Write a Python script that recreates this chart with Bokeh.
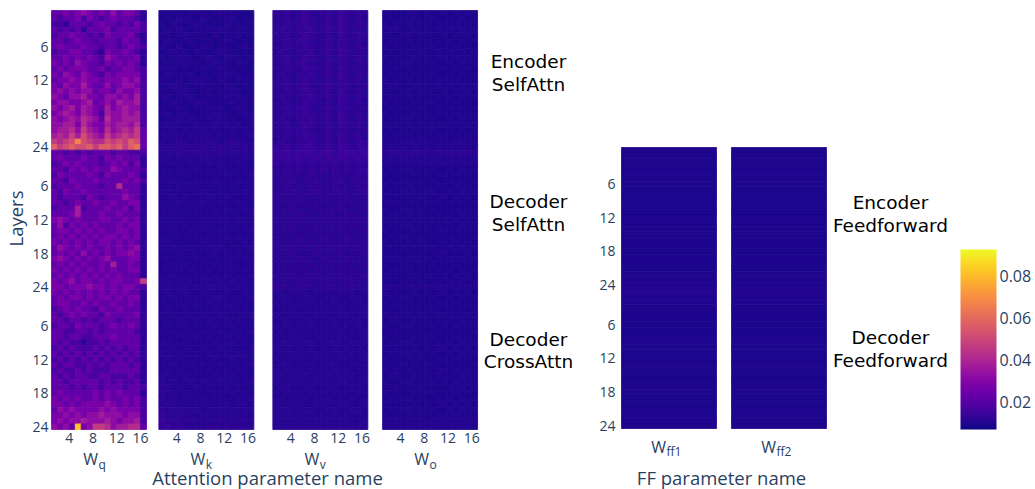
import math
import numpy as np
from bokeh.plotting import figure
from bokeh.models import (Range1d, FixedTicker, ColorBar, LinearColorMapper, ColumnDataSource)
from bokeh.core.properties import value
from bokeh.palettes import Plasma256
from bokeh.layouts import row
from bokeh.embed import file_html
from bokeh.resources import INLINE

# ---------------------------------------------------------------- data
heads = list(range(1, 17))
head_ticks = [4, 8, 12, 16]
layers = list(range(0, 25))
layer_ticks = [6, 12, 18, 24]
attn_sections = [("Encoder", "SelfAttn"), ("Decoder", "SelfAttn"), ("Decoder", "CrossAttn")]
ff_sections = [("Encoder", "Feedforward"), ("Decoder", "Feedforward")]
attn_names = [("W", "q"), ("W", "k"), ("W", "v"), ("W", "o")]
ff_names = [("W", "ff1"), ("W", "ff2")]
attn_axis_title = "Attention parameter name"
ff_axis_title = "FF parameter name"
y_title = "Layers"
color_low, color_high = 0.0067, 0.0928
cbar_ticks = [0.02, 0.04, 0.06, 0.08]

# W_q: one hex digit per head, value = 0.007 + 0.005 * digit
wq_base, wq_step = 0.007, 0.005
wq_levels = [
    # Encoder SelfAttn, layers 0..24
    "3343454343534431", "3233424323433321", "2213332343323242", "3232313334233332",
    "2334332324333421", "3323433233324331", "3433343323323432", "2334433214334321",
    "3343434325433341", "4343543324343431", "3434443342334432", "4354354324344442",
    "3445454434445452", "4354464335345542", "4545455344354452", "5435564435545462",
    "4554456345465562", "5456465436456552", "4565465426556562", "5456576537556662",
    "5566475446566572", "5667586547567683", "6768697658678783", "8789c98779898a93",
    "a89a99a8aa9a8ab3",
    # Decoder SelfAttn
    "3323232333233222", "3433343324343331", "2343433323434241", "3324343433543332",
    "2433334324333431", "3324333433334342", "2333433323373331", "3243343333334331",
    "3233324323335431", "3323433433433441", "2333623334334241", "3334633343343331",
    "4543433344334341", "3524343433343441", "3443434343344341", "3434343434434341",
    "4343434344343431", "3543434334343451", "3434353434344541", "4543434345333441",
    "3434343343633431", "4343434343433441", "3434343434343331", "4345344343443348",
    "4434445443434432",
    # Decoder CrossAttn
    "4343434343434331", "3434434344343441", "3443343433433431", "2343433243343331",
    "3234343324333341", "3323323233323331", "2332433323433431", "3322332323333321",
    "3323322333433331", "3232212232333331", "2323222323232331", "3232323232323231",
    "2323232323232321", "3233223232333231", "2322323222333331", "3232332233222321",
    "3323333323232231", "3332323323332332", "3433333434343331", "4343433434334342",
    "4434344445434342", "3545444454544442", "4454545565554552", "4545565556545562",
    "5453f45887566773",
]

# W_k, W_v, W_o: one hex digit per head, value = 0.007 + 0.001 * digit
fine_base, fine_step = 0.007, 0.001
wk_levels = [
    "3233243323433322", "2324332432334232", "3243234323243323", "2334323233432332",
    "3323433324233423", "2432342332343232", "3324233432332343", "2343324323433232",
    "3234332343243323", "2323433234332432", "3342323432433232", "2433342323343323",
    "3324234332432433", "2343323433243232", "3234432342334323", "3423342333243432",
    "2343234432334233", "3234323343423432", "3423432334332343", "2334343243433234",
    "3433234334343423", "3343433434334343", "3434343443434334", "4345434454345443",
    "5455454545545454",
    "4445445444544443", "3434343443434343", "3343343343433433", "3334334333433343",
    "3433433343343334", "3343334334333433", "3334343333434333", "3433333433333343",
    "3343433343343334", "3334333433433433", "3433343333343343", "3343334334333334",
    "3334333343433433", "3433433433343343", "3343343333433334", "3334334343343433",
    "3433333433333343", "3343433343433334", "3334343334343433", "3433334333334343",
    "3343433434343334", "3434343343434343", "3343434434343434", "4434343443434343",
    "3434434344343433",
    "3433433433343343", "3343343334433334", "3334334343343433", "3433433334334343",
    "3343343433433334", "3334334343343433", "3433433334334343", "3343343433433334",
    "3334334343343433", "4433433334334343", "3343343433433334", "4334334343343433",
    "3433433334334343", "4343343433433334", "3434334343343433", "4433433334334343",
    "4343343433433334", "5434334343343433", "4443433334334343", "5343443433433434",
    "4544334443343443", "5454444344434344", "6545443443444443", "7565454444544454",
    "6756545455454544",
]
wv_levels = [
    "5464575466475565", "4564676456576464", "5465576556475565", "4654667456576454",
    "5464576546475565", "4565675456566464", "5465576556475565", "4654667456576454",
    "5464576546475564", "4565675456566465", "5465576556475554", "4654667456576465",
    "5464576546475564", "4565675456566455", "5465576556475564", "4654667456576465",
    "5464576546475564", "4565675456566455", "5465576556475564", "4654667456576465",
    "5464576546475564", "4565675456566455", "5465576556475564", "4654667456576465",
    "6575687657586576",
    "7686787687678767", "6776867768687676", "6565656565656565", "5565656565656566",
    "5465546554655465", "4556455645564556", "5465546554655465", "4556455645564556",
    "5454545454545455", "4545454545454544", "5455445544554455", "4544554455445544",
    "5454545454545455", "4545454545454544", "5455445544554455", "4544554455445544",
    "5454545454545455", "4545454545454544", "5455445544554455", "4544554455445544",
    "5454545454545455", "4545454545454544", "5455445544554455", "4544554455445544",
    "5554555455545554",
    "4434443444344434", "3443344334433443", "4343434343434343", "3434343434343434",
    "4334433443344334", "3443344334433443", "4343434343434343", "3434343434343434",
    "4334433443344334", "3443344334433443", "4343434343434343", "3434343434343434",
    "4334433443344334", "3443344334433443", "4343434343434343", "3434343434343434",
    "4334433443344334", "3443344334433443", "4343434343434343", "3434343434343434",
    "4334433443344334", "3443344334433443", "4343434343434343", "4434443444344434",
    "4444444444444444",
]
wo_levels = [
    "3232332323323232", "2323232332232323", "3232323223323232", "2332232323232323",
    "3223323232323232", "2332323223232323", "3232232332323232", "2323323223232323",
    "3232232323323232", "2323323232232323", "3232323223323232", "2323232332232323",
    "3232323223323232", "2332232323232323", "3223323232323232", "2332323223232323",
    "3232232332323232", "2323323223232323", "3232232323323232", "2323323232232323",
    "3232323223323232", "2323232332232323", "3232323223323232", "3333333333333333",
    "3434343434343433",
    "4454545444545454", "3434343434343434", "3333333333333333", "2323323232232323",
    "3232232323323232", "2323323232232323", "3232323223323232", "2323232332232323",
    "3232323223323232", "2332232323232323", "3223323232323232", "2332323223232323",
    "3232232332323232", "2323323223232323", "3232232323323232", "2323323232232323",
    "3232323223323232", "2323232332232323", "3232323223323232", "2332232323232323",
    "3223323232323232", "2332323223232323", "3232232332323232", "2323323223232323",
    "3333333333333333",
    "3232232323323232", "2323323232232323", "3232323223323232", "2323232332232323",
    "3232323223323232", "2332232323232323", "3223323232323232", "2332323223232323",
    "3232232332323232", "2323323223232323", "3232232323323232", "2323323232232323",
    "3232323223323232", "2323232332232323", "3232323223323232", "2332232323232323",
    "3223323232323232", "2332323223232323", "3232232332323232", "2323323223232323",
    "3232232323323232", "2323323232232323", "3232323223323232", "3333333333333333",
    "3333333333333333",
]

# Feedforward matrices: one value per layer (Encoder 0..24, then Decoder 0..24)
ff1_values = [0.0091, 0.0090, 0.0090, 0.0089, 0.0090, 0.0089, 0.0089, 0.0090, 0.0089, 0.0089,
              0.0090, 0.0089, 0.0089, 0.0090, 0.0089, 0.0089, 0.0090, 0.0089, 0.0089, 0.0090,
              0.0090, 0.0090, 0.0091, 0.0092, 0.0094,
              0.0102, 0.0094, 0.0092, 0.0091, 0.0090, 0.0090, 0.0090, 0.0089, 0.0090, 0.0089,
              0.0090, 0.0089, 0.0089, 0.0090, 0.0089, 0.0089, 0.0090, 0.0089, 0.0089, 0.0090,
              0.0089, 0.0090, 0.0090, 0.0091, 0.0092]
ff2_values = [0.0090, 0.0090, 0.0089, 0.0089, 0.0089, 0.0089, 0.0090, 0.0089, 0.0089, 0.0089,
              0.0089, 0.0090, 0.0089, 0.0089, 0.0089, 0.0090, 0.0089, 0.0089, 0.0089, 0.0089,
              0.0090, 0.0090, 0.0090, 0.0091, 0.0093,
              0.0098, 0.0093, 0.0091, 0.0090, 0.0090, 0.0089, 0.0089, 0.0089, 0.0089, 0.0089,
              0.0089, 0.0089, 0.0090, 0.0089, 0.0089, 0.0089, 0.0089, 0.0090, 0.0089, 0.0089,
              0.0089, 0.0089, 0.0090, 0.0090, 0.0091]

# ---------------------------------------------------------------- styling
TICK_COLOR = "#2a3f5f"
FONT = "Open Sans"
LABEL_FONT = "DejaVu Sans"
TITLE_SIZE = "18.5px"
H = 489
mapper = LinearColorMapper(palette=Plasma256, low=color_low, high=color_high)
cmap_field = {"field": "v", "transform": mapper}


def decode(rows, base, step):
    for r in rows:
        assert len(r) == 16, r
    return [[base + step * int(c, 16) for c in r] for r in rows]


attn_values = [decode(wq_levels, wq_base, wq_step), decode(wk_levels, fine_base, fine_step),
               decode(wv_levels, fine_base, fine_step), decode(wo_levels, fine_base, fine_step)]
n_sections = len(attn_sections)
n_rows = n_sections * len(layers)


def style_axis(ax, size="14px", standoff=3):
    ax.axis_line_color = None
    ax.major_tick_line_color = None
    ax.minor_tick_line_color = None
    ax.major_tick_out = 0
    ax.major_tick_in = 0
    ax.major_label_standoff = standoff
    ax.major_label_text_font = FONT
    ax.major_label_text_font_size = size
    ax.major_label_text_color = TICK_COLOR


def base_fig(width, xr, yr):
    p = figure(width=width, height=H, x_range=xr, y_range=yr, title=None,
               toolbar_location=None, output_backend="svg",
               min_border_left=0, min_border_right=0,
               min_border_top=0, min_border_bottom=0)
    if "frame_align" in p.properties():
        p.frame_align = False
    p.outline_line_color = None
    p.xgrid.visible = False
    p.ygrid.visible = False
    p.background_fill_color = "white"
    p.border_fill_color = "white"
    return p


def add_text(p, fx, fy, xs, ys_px, texts, size, color, font=FONT, align="center", angle=0.0):
    # ys_px: intended alphabetic baselines (canvas px); small correction for the glyph's baseline
    px = float(size.replace("px", ""))
    ys = [fy(y - 0.39 * px) for y in ys_px]
    p.text(x=[fx(x) for x in xs], y=ys, text=texts, text_font=value(font),
           text_font_size=value(size), text_color=color, text_align=align,
           text_baseline="alphabetic", angle=angle)


# ---------------------------------------------------------------- attention figure
A_W = 596
A_X0, A_Y0 = 51, 10             # left/top edge of the heat maps on the canvas
A_SX, A_SY = 95 / 16, 419 / 75  # pixels per head / per layer row
panel_left = [0.0, 18.08, 37.28, 55.76]   # panel positions (head units)


def ax_(px):
    return (px - A_X0) / A_SX


def ay_(py):
    return -0.5 + (py - A_Y0) / A_SY


def apx(x):
    return A_X0 + x * A_SX


pa = base_fig(A_W, Range1d(ax_(0), ax_(A_W)), Range1d(ay_(H), ay_(0)))

xs, ys, vs = [], [], []
for pi, vals in enumerate(attn_values):
    for r, rowvals in enumerate(vals):
        for hi, h in enumerate(heads):
            xs.append(panel_left[pi] + hi + 0.5)
            ys.append(r)
            vs.append(rowvals[hi])
pa.rect(x="x", y="y", width=1, height=1, source=ColumnDataSource(dict(x=xs, y=ys, v=vs)),
        fill_color=cmap_field, line_color=cmap_field, line_width=0.8)

xt, xlab = [], {}
for pl in panel_left:
    for t in head_ticks:
        pos = round(pl + t - 1, 2)
        xt.append(pos)
        xlab[pos] = str(t)
pa.xaxis.ticker = FixedTicker(ticks=xt)
pa.xaxis.major_label_overrides = xlab
pa.xaxis.fixed_location = n_rows - 0.5
style_axis(pa.xaxis, standoff=3)

yt, ylab = [], {}
for s in range(n_sections):
    for l in layer_ticks:
        yt.append(s * len(layers) + l)
        ylab[s * len(layers) + l] = str(l)
pa.yaxis.ticker = FixedTicker(ticks=yt)
pa.yaxis.major_label_overrides = ylab
pa.yaxis.fixed_location = 0
style_axis(pa.yaxis, standoff=3)

# "Layers" title, rotated
pa.text(x=[ax_(15)], y=[ay_(218)], text=[y_title], text_font=value(FONT),
        text_font_size=value(TITLE_SIZE), text_color=TICK_COLOR, text_align="center",
        text_baseline="middle", angle=math.pi / 2)

# panel names: "W" with a subscript
cxs = [apx(panel_left[i] + len(heads) / 2) - 1 for i in range(len(attn_names))]
add_text(pa, ax_, ay_, cxs, [465] * 4, [w for w, _ in attn_names], "16px", TICK_COLOR,
         align="right")
add_text(pa, ax_, ay_, [c + 0.5 for c in cxs], [469] * 4, [s for _, s in attn_names],
         "12px", TICK_COLOR, align="left")
add_text(pa, ax_, ay_, [267], [484], [attn_axis_title], TITLE_SIZE, TICK_COLOR)
attn_label_y = [(68, 91), (208, 231), (346, 368)]
lx, ly, lt = [], [], []
for (l1, l2), (y1, y2) in zip(attn_sections, attn_label_y):
    lx += [528, 528]
    ly += [y1, y2]
    lt += [l1, l2]
add_text(pa, ax_, ay_, lx, ly, lt, "18.5px", "black", font=LABEL_FONT)

# ---------------------------------------------------------------- feedforward figure
B_X = 596
B_W = 354
B_X0, B_Y0 = 621, 147
B_SX, B_SY = 95.0, 281 / 50
ff_left = [0.0, 1.158]
n_ff_rows = len(ff1_values)


def bx_(px):
    return (px - B_X0) / B_SX


def by_(py):
    return -0.5 + (py - B_Y0) / B_SY


def bpx(x):
    return B_X0 + x * B_SX


pb = base_fig(B_W, Range1d(bx_(B_X), bx_(B_X + B_W)), Range1d(by_(H), by_(0)))
fx, fy, fv = [], [], []
for pi, vals in enumerate([ff1_values, ff2_values]):
    for r, v in enumerate(vals):
        fx.append(ff_left[pi] + 0.5)
        fy.append(r)
        fv.append(v)
pb.rect(x="x", y="y", width=1, height=1, source=ColumnDataSource(dict(x=fx, y=fy, v=fv)),
        fill_color=cmap_field, line_color=cmap_field, line_width=0.8)
pb.xaxis.visible = False
fyt, fylab = [], {}
for s in range(2):
    for l in layer_ticks:
        fyt.append(s * len(layers) + l)
        fylab[s * len(layers) + l] = str(l)
pb.yaxis.ticker = FixedTicker(ticks=fyt)
pb.yaxis.major_label_overrides = fylab
pb.yaxis.fixed_location = 0
style_axis(pb.yaxis, standoff=6)

fcx = [bpx(ff_left[i] + 0.5) - 3 for i in range(len(ff_names))]
add_text(pb, bx_, by_, fcx, [453] * 2, [w for w, _ in ff_names], "16px", TICK_COLOR,
         align="right")
add_text(pb, bx_, by_, [c + 0.5 for c in fcx], [456] * 2, [s for _, s in ff_names],
         "12px", TICK_COLOR, align="left")
add_text(pb, bx_, by_, [721], [484], [ff_axis_title], TITLE_SIZE, TICK_COLOR)
ff_label_y = [(209, 232), (344, 367)]
lx, ly, lt = [], [], []
for (l1, l2), (y1, y2) in zip(ff_sections, ff_label_y):
    lx += [890, 890]
    ly += [y1, y2]
    lt += [l1, l2]
add_text(pb, bx_, by_, lx, ly, lt, "18.5px", "black", font=LABEL_FONT)

# ---------------------------------------------------------------- colour bar figure
C_W = 1035 - B_X - B_W
pc = figure(width=C_W, height=H, toolbar_location=None, output_backend="svg", title=None,
            x_axis_location=None, y_axis_location=None,
            min_border_left=0, min_border_right=0, min_border_top=0, min_border_bottom=0,
            x_range=Range1d(0, 1), y_range=Range1d(0, 1))
if "frame_align" in pc.properties():
    pc.frame_align = False
pc.outline_line_color = None
pc.xgrid.visible = False
pc.ygrid.visible = False
cb = ColorBar(color_mapper=mapper, ticker=FixedTicker(ticks=cbar_ticks), location=(10, H - 429),
              width=36, height=180, padding=0, label_standoff=3,
              major_tick_line_color=None, minor_tick_line_color=None, bar_line_color=None,
              border_line_color=None, background_fill_color=None,
              major_label_text_font=FONT, major_label_text_font_size="16px",
              major_label_text_color=TICK_COLOR)
pc.add_layout(cb, "center")

layout = row(pa, pb, pc)
open("out.html", "w").write(file_html(layout, INLINE))
